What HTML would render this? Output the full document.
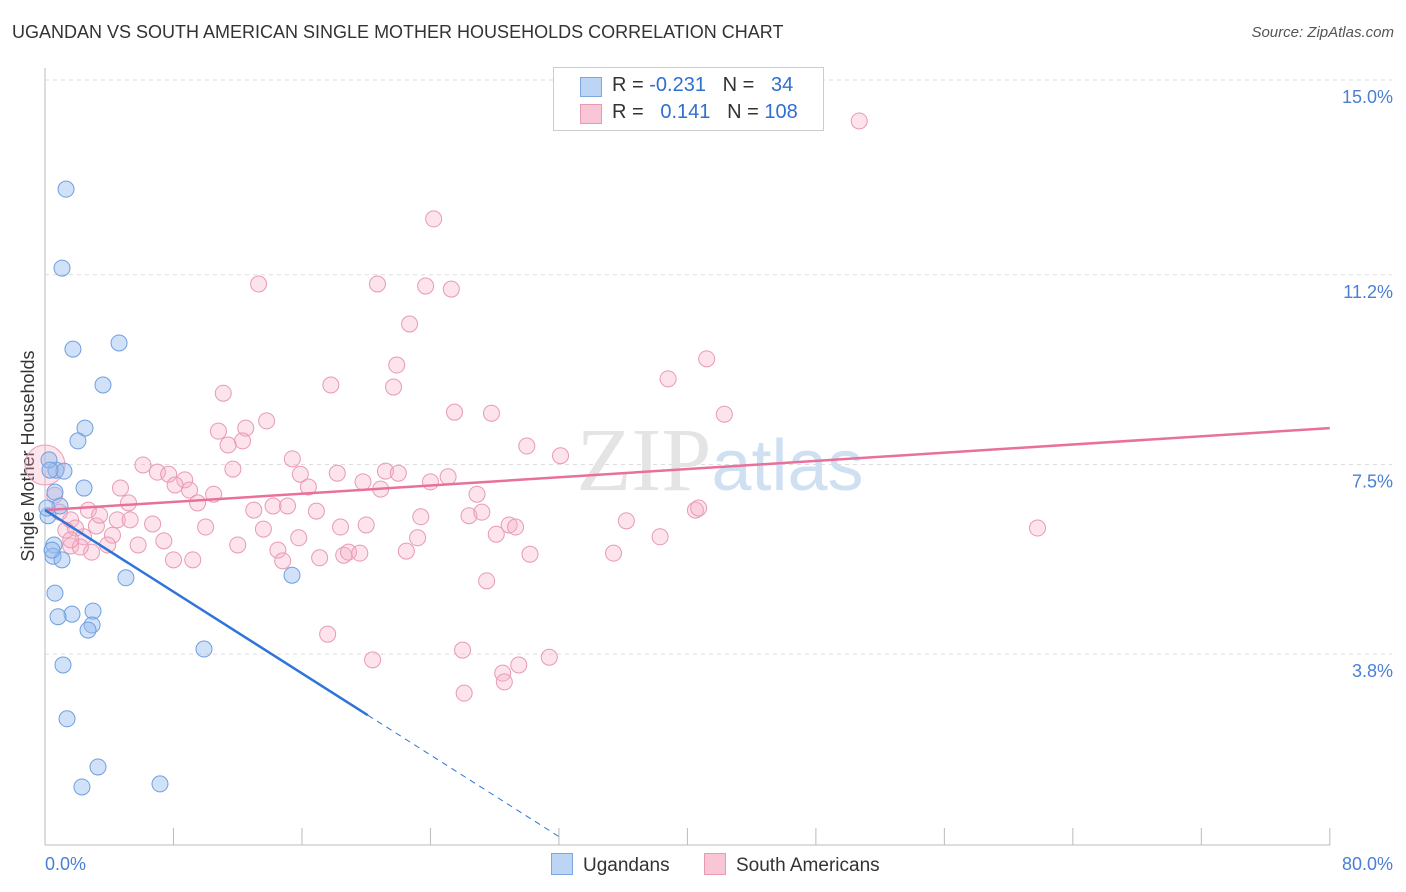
<!DOCTYPE html>
<html><head><meta charset="utf-8"><style>
body{margin:0;background:#fff;font-family:"Liberation Sans",sans-serif;}
#wrap{position:relative;width:1406px;height:892px;overflow:hidden}
.t{position:absolute;white-space:nowrap}
</style></head><body>
<div id="wrap">
<div class="t" style="left:12px;top:22px;font-size:18px;color:#333">UGANDAN VS SOUTH AMERICAN SINGLE MOTHER HOUSEHOLDS CORRELATION CHART</div>
<div class="t" style="right:12px;top:24px;font-size:15px;color:#555;font-style:italic">Source: ZipAtlas.com</div>
<svg id="svg" width="1406" height="892" style="position:absolute;left:0;top:0"></svg>
</div>
<script>
const yTicks=[15.0,11.2,7.5,3.8];
const yTickLabels=["15.0%","11.2%","7.5%","3.8%"];
const xTickLabels=["0.0%","80.0%"];
const blueX=[1.31,1.06,1.74,4.61,3.61,2.49,2.05,0.68,1.18,0.25,2.43,0.62,0.93,0.19,0.56,0.50,1.06,5.04,15.38,0.62,2.99,1.68,0.81,2.93,2.68,9.90,1.12,1.37,3.30,2.30,7.16,0.31,0.12,0.44];
const blueY=[12.87,11.33,9.75,9.87,9.05,8.21,7.96,7.39,7.37,7.59,7.04,6.96,6.69,6.50,5.93,5.71,5.64,5.29,5.34,4.99,4.64,4.58,4.53,4.37,4.27,3.90,3.59,2.54,1.60,1.21,1.27,7.39,6.65,5.83];
const pinkX=[50.7,24.2,13.3,20.7,23.7,25.3,22.7,21.9,41.2,17.8,21.7,38.8,11.1,25.5,27.8,42.3,13.8,10.8,12.5,12.3,11.4,30.0,32.1,15.4,6.1,11.7,7.0,8.7,7.7,15.9,18.2,21.2,22.0,25.1,8.1,4.7,9.0,16.4,19.8,20.9,24.0,10.5,26.9,5.2,9.5,13.0,14.2,15.1,16.9,23.4,26.4,27.2,40.5,40.7,61.8,36.2,2.7,4.5,6.7,10.0,13.6,3.2,18.4,20.0,28.9,29.3,28.1,4.2,2.4,7.4,12.0,15.8,23.2,38.3,5.8,3.9,1.6,2.9,14.5,17.1,18.6,18.9,19.6,14.8,22.5,30.2,35.4,8.0,9.2,27.5,17.6,20.4,26.0,29.5,31.4,28.5,28.6,26.1,1.6,1.3,0.9,2.2,0.6,3.4,1.9,5.3,1.6];
const pinkY=[14.2,12.29,11.02,11.02,10.98,10.92,10.24,9.44,9.56,9.05,9.01,9.17,8.89,8.52,8.50,8.48,8.35,8.15,8.21,7.96,7.88,7.86,7.67,7.61,7.49,7.41,7.35,7.20,7.31,7.31,7.33,7.37,7.33,7.26,7.10,7.04,7.00,7.06,7.16,7.02,7.16,6.92,6.92,6.75,6.75,6.61,6.69,6.69,6.59,6.48,6.50,6.57,6.61,6.65,6.26,6.40,6.61,6.42,6.34,6.28,6.24,6.30,6.28,6.32,6.32,6.28,6.14,6.12,6.09,6.01,5.93,6.07,6.07,6.09,5.93,5.93,5.91,5.79,5.83,5.68,5.73,5.79,5.77,5.62,5.81,5.75,5.77,5.64,5.64,5.23,4.19,3.69,3.88,3.59,3.74,3.43,3.26,3.04,6.42,6.22,6.57,5.89,6.90,6.51,6.26,6.42,6.03];
const blueLine=[6.61,-0.199];
const pinkLine=[6.61,0.02];
const X=v=>45+v*16.06, Y=v=>849-v*51.27;
const NS="http://www.w3.org/2000/svg", svg=document.getElementById('svg');
function mk(t,a){const e=document.createElementNS(NS,t);for(const k in a)e.setAttribute(k,a[k]);svg.appendChild(e);return e;}
// gridlines
yTicks.forEach((v,i)=>{
 const g=mk('line',{x1:45,x2:1392,y1:Y(v),y2:Y(v),stroke:'#ddd','stroke-dasharray':'4 4'});
 
 
 const t=mk('text',{x:1393,y:Y(v)+23,'text-anchor':'end','font-size':18,fill:'#4a7fd4'});
 t.textContent=yTickLabels[i];
 
 
});
const ax=mk('line',{x1:45,x2:1330,y1:845,y2:845,stroke:'#bbb'});


const ay=mk('line',{x1:45,x2:45,y1:68,y2:845,stroke:'#bbb'});


for(let i=0;i<=10;i++){const tk=mk('line',{x1:X(i*8),x2:X(i*8),y1:828,y2:845,stroke:'#bbb'});
 
 }
[[0,'start',45],[80,'end',1393]].forEach((d,i)=>{const t=mk('text',{x:d[2],y:870,'text-anchor':d[1],'font-size':18,fill:'#4a7fd4'});t.textContent=xTickLabels[i];
 
 });
const yt=mk('text',{x:34,y:456,'text-anchor':'middle','font-size':18,fill:'#333',transform:'rotate(-90 34 456)'});
yt.textContent='Single Mother Households';


// watermark
const wm=mk('text',{x:720,y:490,'text-anchor':'middle','font-size':90,fill:'#e4e4e4','font-family':'Liberation Serif, serif'});
wm.innerHTML='ZIP<tspan fill="#cfe0f3" font-family="Liberation Sans, sans-serif" font-size="72">atlas</tspan>';


const bigc=mk('circle',{cx:45,cy:465,r:20,fill:'rgba(245,170,195,0.3)',stroke:'#e8a0b8'});


pinkX.forEach((x,i)=>{const c=mk('circle',{cx:X(x),cy:Y(pinkY[i]),r:8,fill:'rgba(246,176,200,0.35)',stroke:'#e89ab4','stroke-width':1});
 
 });
blueX.forEach((x,i)=>{const c=mk('circle',{cx:X(x),cy:Y(blueY[i]),r:8,fill:'rgba(150,188,240,0.45)',stroke:'#6f9fe0','stroke-width':1});
 
 });
const pl=mk('line',{x1:X(0),y1:Y(pinkLine[0]),x2:X(80),y2:Y(pinkLine[0]+80*pinkLine[1]),stroke:'#e8709a','stroke-width':2.5});


const bl=mk('line',{x1:X(0),y1:Y(blueLine[0]),x2:X(20.1),y2:Y(blueLine[0]+20.1*blueLine[1]),stroke:'#2f74d8','stroke-width':2.5});


const bd=mk('line',{x1:X(20.1),y1:Y(blueLine[0]+20.1*blueLine[1]),x2:X(32),y2:Y(blueLine[0]+32*blueLine[1]),stroke:'#2f74d8','stroke-width':1,'stroke-dasharray':'6 5'});


</script>
<div class="t" style="left:553px;top:67px;width:269px;height:62px;border:1px solid #ccc;background:#fff;font-size:20px;color:#333">
 <div style="position:absolute;left:26px;top:9px;width:20px;height:18px;background:#bcd5f5;border:1px solid #7ea6e0"></div>
 <div style="position:absolute;left:58px;top:6px">R = <span style="color:#2f6fd0">-0.231</span>&nbsp;&nbsp;&nbsp;N = &nbsp;&nbsp;<span style="color:#2f6fd0">34</span></div>
 <div style="position:absolute;left:26px;top:36px;width:20px;height:18px;background:#f9c6d6;border:1px solid #e89ab4"></div>
 <div style="position:absolute;left:58px;top:33px">R = &nbsp;&nbsp;<span style="color:#2f6fd0">0.141</span>&nbsp;&nbsp;&nbsp;N = <span style="color:#2f6fd0">108</span></div>
</div>
<div class="t" style="left:551px;top:853px;font-size:19px;color:#333"><span style="display:inline-block;width:20px;height:20px;background:#bcd5f5;border:1px solid #7ea6e0;vertical-align:-4px;margin-right:10px"></span>Ugandans</div>
<div class="t" style="left:704px;top:853px;font-size:19px;color:#333"><span style="display:inline-block;width:20px;height:20px;background:#f9c6d6;border:1px solid #e89ab4;vertical-align:-4px;margin-right:10px"></span>South Americans</div>
</body></html>
